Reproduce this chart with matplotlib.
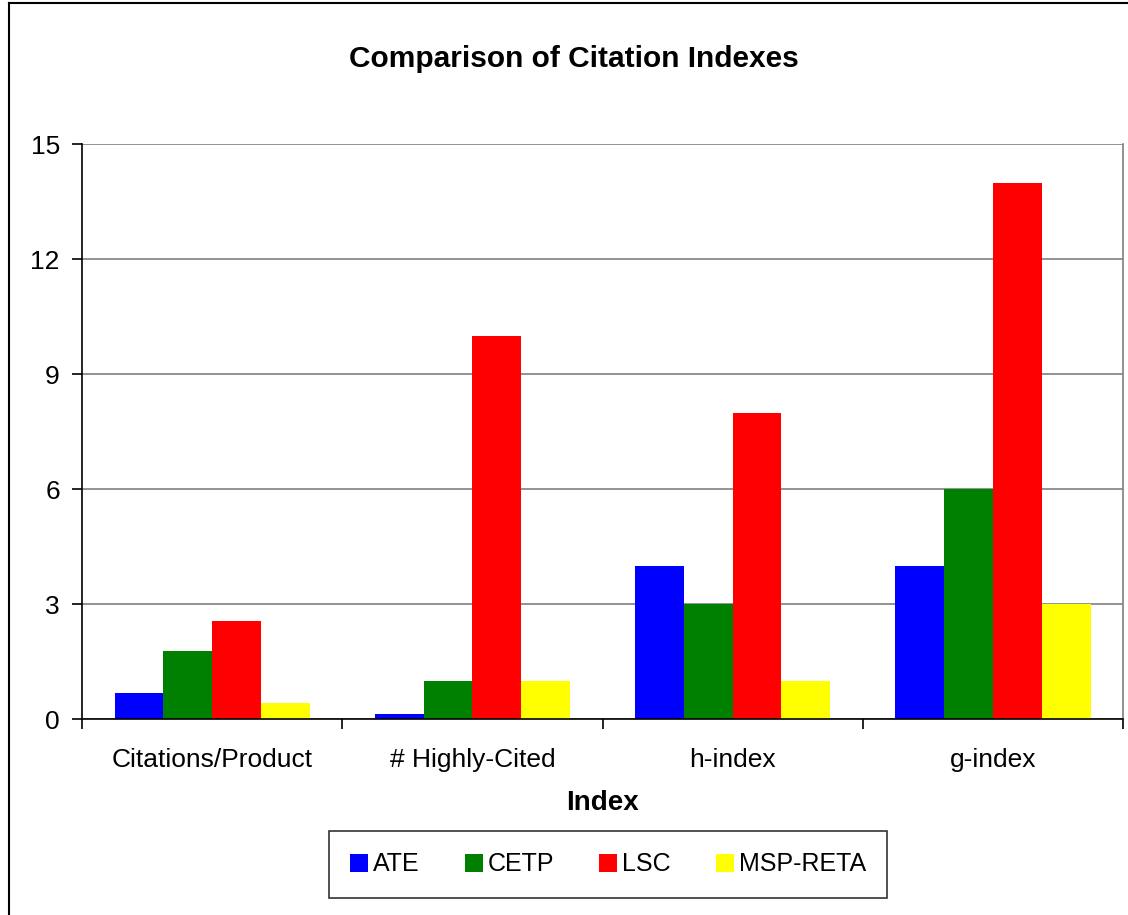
import matplotlib
matplotlib.use('Agg')
import matplotlib.pyplot as plt
from matplotlib.lines import Line2D
import numpy as np

plt.rcParams['font.family'] = ['Liberation Sans', 'DejaVu Sans']

# data
categories = ['Citations/Product', '# Highly-Cited', 'h-index', 'g-index']
series = ['ATE', 'CETP', 'LSC', 'MSP-RETA']
colors = ['#0000ff', '#008000', '#ff0000', '#ffff00']
ate = [0.68, 0.15, 4, 4]
cetp = [1.77, 1, 3, 6]
lsc = [2.57, 10, 8, 14]
msp = [0.43, 1, 1, 3]
values = [ate, cetp, lsc, msp]
yticks = [0, 3, 6, 9, 12, 15]

fig = plt.figure(figsize=(11.28, 9.15), dpi=100)
ax = fig.add_axes([0.0727, 0.2139, 0.9229, 0.6284])

x = np.arange(len(categories)) + 0.5
w = 0.1875
for i, (name, vals) in enumerate(zip(series, values)):
    ax.bar(x + (i - 1.5) * w, vals, w, color=colors[i], label=name, zorder=3)

ax.set_xlim(0, len(categories))
ax.set_ylim(0, 15)
ax.set_yticks(yticks)
ax.yaxis.grid(True, color='#808080', linewidth=1.2, zorder=0)
ax.set_xticks(np.arange(len(categories) + 1))
ax.set_xticklabels([])
ax.set_xticks(x, minor=True)
ax.set_xticklabels(categories, minor=True)
ax.tick_params(axis='x', which='major', length=7, width=1.2, direction='out')
ax.tick_params(axis='x', which='minor', length=0, pad=21, labelsize=19)
ax.tick_params(axis='y', length=7, width=1.2, direction='out', pad=9, labelsize=19)

for s in ['left', 'bottom']:
    ax.spines[s].set_linewidth(1.2)
    ax.spines[s].set_zorder(4)
ax.spines['right'].set_color('#808080')
ax.spines['right'].set_linewidth(1.2)
ax.spines['top'].set_visible(False)

fig.text(0.509, 0.935, 'Comparison of Citation Indexes', ha='center', va='center',
         fontsize=21.5, fontweight='bold')
fig.text(0.534, 0.1224, 'Index', ha='center', va='center', fontsize=20, fontweight='bold')

leg = fig.legend(loc='center', bbox_to_anchor=(0.539, 0.0552), ncol=4, fontsize=18,
                 frameon=True, fancybox=False, edgecolor='black', handlelength=0.72,
                 handleheight=0.72, handletextpad=0.2, columnspacing=1.8,
                 borderpad=0.85, borderaxespad=0)
leg.get_frame().set_linewidth(1.2)

# outer chart frame
fig.add_artist(Line2D([9 / 1128, 9 / 1128], [0, 1 - 3 / 915], color='black', linewidth=1.5))
fig.add_artist(Line2D([9 / 1128, 1], [1 - 3 / 915, 1 - 3 / 915], color='black', linewidth=1.5))

fig.savefig('out.png', dpi=100)
